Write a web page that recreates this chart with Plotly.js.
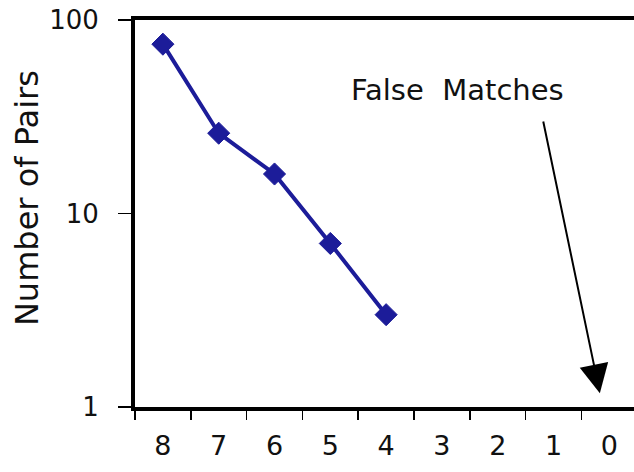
<!DOCTYPE html>
<html>
<head>
<meta charset="utf-8">
<script src="https://cdn.plot.ly/plotly-3.0.1.min.js"></script>
<style>
html,body{margin:0;padding:0;overflow:hidden;background:#fff;}
#chart{width:700px;height:472px;}
</style>
</head>
<body>
<div id="chart"></div>
<script>
const categories = ["8","7","6","5","4","3","2","1","0"];
const seriesX = ["8","7","6","5","4"];
const seriesY = [75, 26, 16, 7, 3];
const yTickVals = [1, 10, 100];
const yTickText = ["1", "10", "100"];
const yTitle = "Number of Pairs";
const annotationText = "False  Matches";

const font = "DejaVu Sans, Verdana, sans-serif";

const trace = {
  x: seriesX,
  y: seriesY,
  type: "scatter",
  mode: "lines+markers",
  line: {color: "#1c1c99", width: 4},
  marker: {symbol: "diamond", size: 17, color: "#1c1c99", line: {color: "#1c1c99", width: 1}},
  showlegend: false,
  hoverinfo: "skip"
};

const layout = {
  width: 700,
  height: 472,
  margin: {l: 135, r: 46, t: 20, b: 65},
  paper_bgcolor: "#ffffff",
  plot_bgcolor: "#ffffff",
  font: {family: font, color: "#000"},
  xaxis: {
    type: "category",
    categoryorder: "array",
    categoryarray: categories,
    tickvals: categories,
    range: [-0.5, 8.8],
    tickson: "boundaries",
    ticks: "outside",
    ticklen: 9,
    tickwidth: 1.5,
    tickcolor: "#000",
    showline: true,
    linewidth: 4,
    linecolor: "#000",
    mirror: true,
    showgrid: false,
    zeroline: false,
    tickfont: {size: 27, family: font, color: "#111"},
    ticklabelstandoff: 12
  },
  yaxis: {
    type: "log",
    range: [0, 2],
    tickvals: yTickVals,
    ticktext: yTickText,
    ticks: "outside",
    ticklen: 13,
    tickwidth: 1.5,
    tickcolor: "#000",
    showline: true,
    linewidth: 4,
    linecolor: "#000",
    mirror: false,
    showgrid: false,
    zeroline: false,
    tickfont: {size: 26, family: font, color: "#111"},
    ticklabelstandoff: 14
  },
  annotations: [
    {
      xref: "paper", yref: "paper",
      x: -0.208, y: 0.54,
      text: yTitle,
      textangle: -90,
      showarrow: false,
      font: {size: 32, family: font, color: "#111"},
      xanchor: "center", yanchor: "middle"
    },
    {
      xref: "x", yref: "y",
      x: 5.27, y: 1.638,
      text: annotationText,
      showarrow: false,
      font: {size: 29, family: font, color: "#111"},
      xanchor: "center", yanchor: "middle"
    },
    {
      xref: "x", yref: "y",
      axref: "x", ayref: "y",
      x: 7.83, y: 0.071,
      ax: 6.81, ay: 1.483,
      text: "",
      showarrow: true,
      arrowhead: 2,
      arrowsize: 2.9,
      arrowwidth: 2,
      arrowcolor: "#000",
      standoff: 0,
      startstandoff: 0
    }
  ]
};

Plotly.newPlot("chart", [trace], layout, {displayModeBar: false, staticPlot: true});
</script>
</body>
</html>
